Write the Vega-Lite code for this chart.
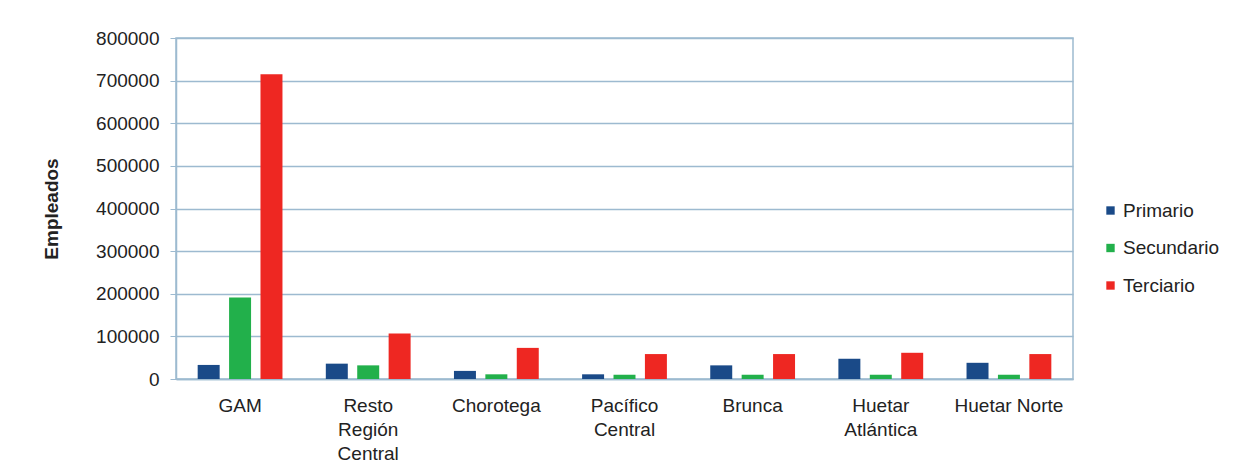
{
  "$schema": "https://vega.github.io/schema/vega-lite/v6.json",
  "width": 897,
  "height": 341,
  "autosize": {"type": "none"},
  "padding": {"left": 176, "top": 38, "right": 170, "bottom": 97},
  "background": "white",
  "config": {
    "font": "Liberation Sans",
    "view": {"stroke": "#9dbad0", "strokeWidth": 1.5}
  },
  "data": {
    "values": [
      {"region": "GAM", "sector": "Primario", "empleados": 33000},
      {"region": "GAM", "sector": "Secundario", "empleados": 191000},
      {"region": "GAM", "sector": "Terciario", "empleados": 715000},
      {"region": "Resto Región Central", "sector": "Primario", "empleados": 36000},
      {"region": "Resto Región Central", "sector": "Secundario", "empleados": 32000},
      {"region": "Resto Región Central", "sector": "Terciario", "empleados": 107000},
      {"region": "Chorotega", "sector": "Primario", "empleados": 19000},
      {"region": "Chorotega", "sector": "Secundario", "empleados": 11000},
      {"region": "Chorotega", "sector": "Terciario", "empleados": 73000},
      {"region": "Pacífico Central", "sector": "Primario", "empleados": 11000},
      {"region": "Pacífico Central", "sector": "Secundario", "empleados": 10000},
      {"region": "Pacífico Central", "sector": "Terciario", "empleados": 58500},
      {"region": "Brunca", "sector": "Primario", "empleados": 32000},
      {"region": "Brunca", "sector": "Secundario", "empleados": 10000},
      {"region": "Brunca", "sector": "Terciario", "empleados": 58500},
      {"region": "Huetar Atlántica", "sector": "Primario", "empleados": 47500},
      {"region": "Huetar Atlántica", "sector": "Secundario", "empleados": 10000},
      {"region": "Huetar Atlántica", "sector": "Terciario", "empleados": 61500},
      {"region": "Huetar Norte", "sector": "Primario", "empleados": 38000},
      {"region": "Huetar Norte", "sector": "Secundario", "empleados": 10000},
      {"region": "Huetar Norte", "sector": "Terciario", "empleados": 58500}
    ]
  },
  "mark": {"type": "bar"},
  "encoding": {
    "x": {
      "field": "region",
      "type": "nominal",
      "sort": null,
      "scale": {"paddingInner": 0, "paddingOuter": 0},
      "axis": {
        "title": null,
        "labelAngle": 0,
        "labelFontSize": 19,
        "labelColor": "#222222",
        "labelLineHeight": 24,
        "labelPadding": 17,
        "labelBaseline": "top",
        "labelOverlap": false,
        "ticks": false,
        "domainColor": "#9dbad0",
        "domainWidth": 1.5,
        "labelExpr": "datum.label == 'Resto Región Central' ? ['Resto', 'Región', 'Central'] : datum.label == 'Pacífico Central' ? ['Pacífico', 'Central'] : datum.label == 'Huetar Atlántica' ? ['Huetar', 'Atlántica'] : datum.label"
      }
    },
    "xOffset": {
      "field": "sector",
      "type": "nominal",
      "scale": {"paddingInner": 0.3, "paddingOuter": 0.69}
    },
    "y": {
      "field": "empleados",
      "type": "quantitative",
      "scale": {"domain": [0, 800000]},
      "axis": {
        "title": "Empleados",
        "titleFontSize": 19,
        "titleFontWeight": "bold",
        "titleColor": "#222222",
        "titlePadding": 34,
        "format": "d",
        "values": [0, 100000, 200000, 300000, 400000, 500000, 600000, 700000, 800000],
        "labelOverlap": false,
        "labelFontSize": 19,
        "labelColor": "#222222",
        "labelPadding": 11,
        "tickSize": 6,
        "tickColor": "#9dbad0",
        "domainColor": "#9dbad0",
        "domainWidth": 1.5,
        "gridColor": "#9dbad0",
        "gridWidth": 1.5,
        "gridOpacity": 1
      }
    },
    "color": {
      "field": "sector",
      "type": "nominal",
      "scale": {
        "domain": ["Primario", "Secundario", "Terciario"],
        "range": ["#1a4a88", "#22b04b", "#ee2722"]
      },
      "legend": {
        "title": null,
        "orient": "none",
        "legendX": 925,
        "legendY": 163,
        "symbolType": "square",
        "symbolSize": 70,
        "symbolStrokeWidth": 0,
        "labelFontSize": 19,
        "labelColor": "#222222",
        "labelOffset": 3,
        "rowPadding": 17.5
      }
    }
  }
}
